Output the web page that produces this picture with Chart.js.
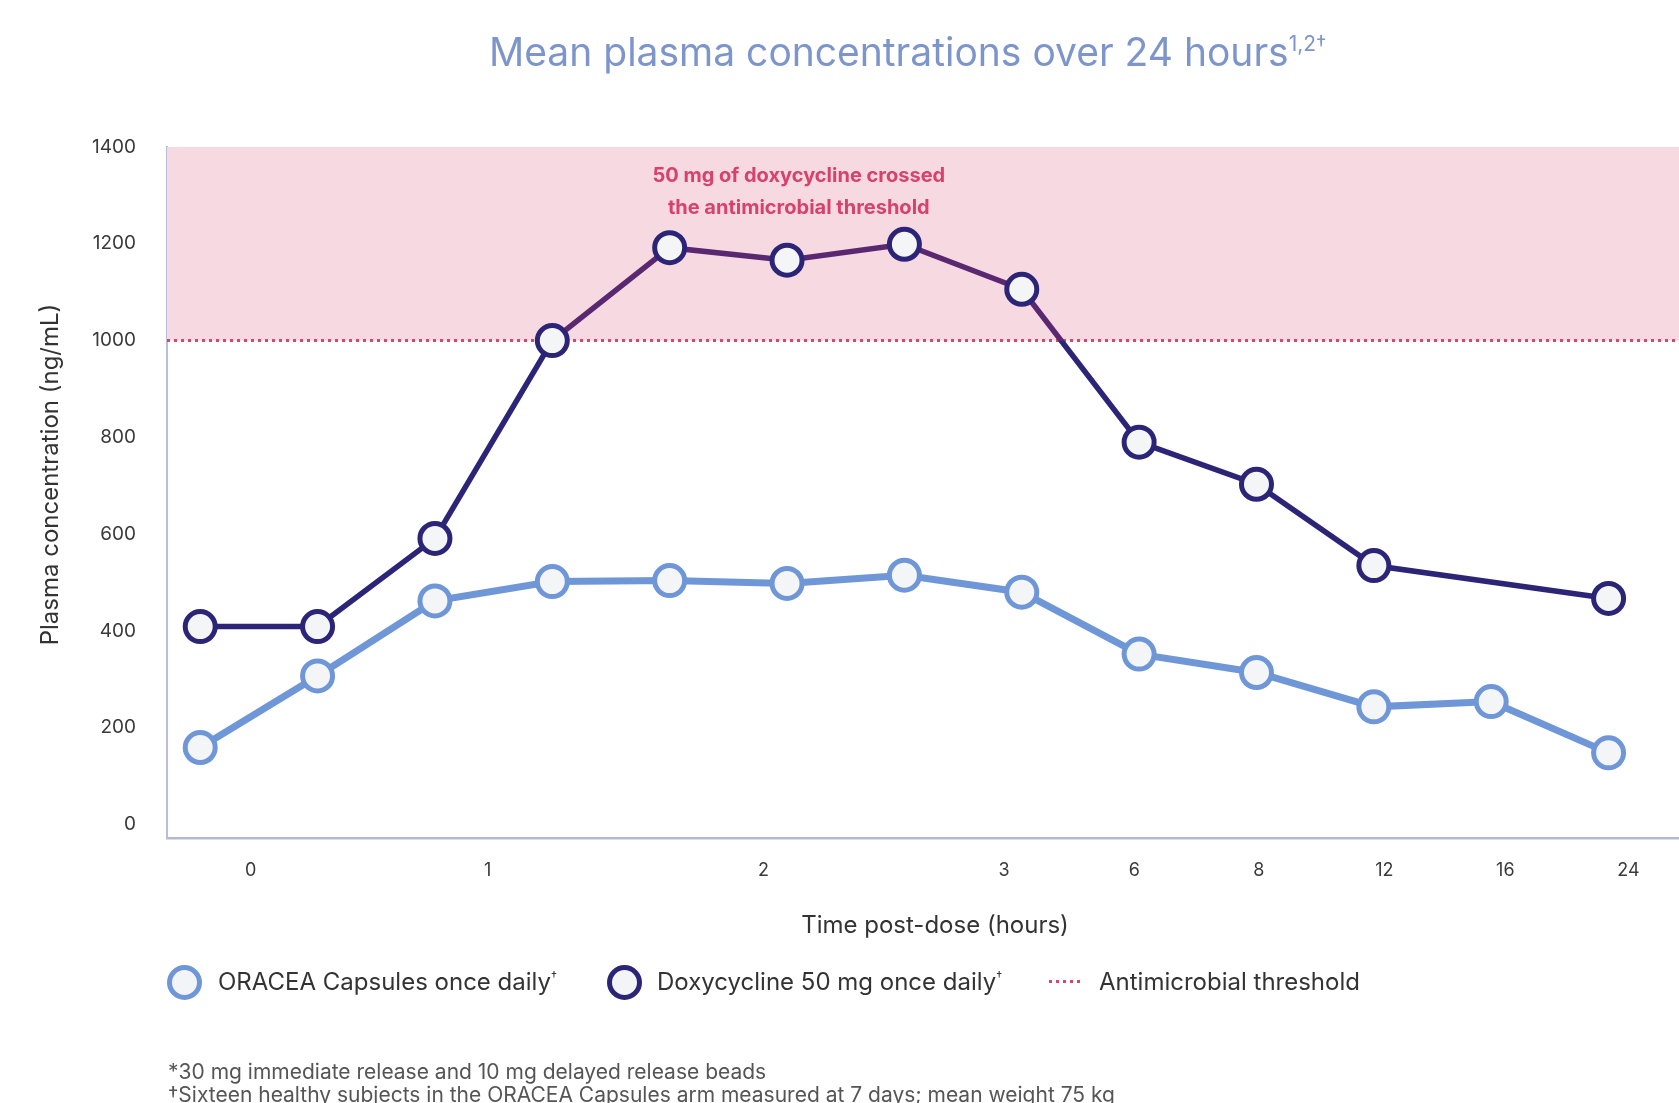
<!DOCTYPE html>
<html>
<head>
<meta charset="utf-8">
<title>Mean plasma concentrations over 24 hours</title>
<script src="https://cdn.jsdelivr.net/npm/chart.js@4.4.1/dist/chart.umd.min.js"></script>
<style>
    body{
        margin: 0;
        width: 1679px;
        height: 1103px;
        overflow: hidden;
        background: #fff;
        font-family: Inter, "Noto Sans", sans-serif;
        position: relative;
    }
    #chartBox{
        position: absolute;
        left: 0;
        top: 0;
        width: 1679px;
        height: 1103px;
    }
    #title{
        position: absolute;
        left: 489px;
        top: 28px;
        font-size: 39px;
        color: #7d95ca;
        white-space: nowrap;
    }
    #title sup{
        font-size: 21px;
        vertical-align: 15px;
        line-height: 0;
    }
    .legendItem{
        position: absolute;
        top: 968px;
        font-size: 24px;
        color: #333;
        white-space: nowrap;
        line-height: 28px;
    }
    .legendItem sup{
        font-size: 12px;
        vertical-align: 10px;
        line-height: 0;
    }
    .marker{
        position: absolute;
        top: 965px;
        width: 25px;
        height: 25px;
        border-radius: 50%;
        background: #f3f4f6;
        border: 5px solid;
    }
    .dots{
        position: absolute;
        top: 980px;
        width: 32px;
        height: 3px;
        background: repeating-linear-gradient(to right, #d8456f 0 3px, transparent 3px 7px);
    }
    .note{
        position: absolute;
        left: 168px;
        font-size: 21px;
        color: #555;
        white-space: nowrap;
    }
</style>
</head>
<body>

<div id="chartBox"><canvas id="plasmaChart"></canvas></div>

<div id="title">Mean plasma concentrations over 24 hours<sup>1,2†</sup></div>

<div class="marker" style="left:167px; border-color:#6f97d8;"></div>
<div class="legendItem" style="left:218px;">ORACEA Capsules once daily<sup>†</sup></div>
<div class="marker" style="left:607px; border-color:#2c2577;"></div>
<div class="legendItem" style="left:657px;">Doxycycline 50 mg once daily<sup>†</sup></div>
<div class="dots" style="left:1049px;"></div>
<div class="legendItem" style="left:1099px;">Antimicrobial threshold</div>

<div class="note" style="top:1059px;">*30 mg immediate release and 10 mg delayed release beads</div>
<div class="note" style="top:1082px;">†Sixteen healthy subjects in the ORACEA Capsules arm measured at 7 days; mean weight 75 kg</div>

<script>
// sample positions along the x axis (one per measurement)
let samples = [0, 1, 2, 3, 4, 5, 6, 7, 8, 9, 10, 11, 12];

let oracea = [159, 307, 462, 502, 504, 498, 515, 480, 352, 314, 243, 254, 148];
let doxy = [409, 409, 591, 1000, 1192, 1166, 1199, 1106, 790, 703, 535, null, 467];

let threshold = 1000;

// x tick labels and where they sit on the sample axis
let tickLabels = ["0", "1", "2", "3", "6", "8", "12", "16", "24"];
let tickPos = [0.43, 2.45, 4.80, 6.85, 7.96, 9.02, 10.09, 11.12, 12.17];

let yTicks = [0, 200, 400, 600, 800, 1000, 1200, 1400];

let noteLines = ["50 mg of doxycycline crossed", "the antimicrobial threshold"];

let xMin = -0.283;
let xMax = 12.6;

const navy = "#2c2577";
const purple = "#5a2870";
const lightBlue = "#6f97d8";
const pointFill = "#f4f5f7";

function toPoints(values){
    return values.map((v, i) => ({ x: samples[i], y: v }));
}

// navy below the threshold, purple-ish inside the pink band
function doxyLineColor(context){
    let chart = context.chart;
    let area = chart.chartArea;
    if(!area){
        return navy;
    }
    let yPix = chart.scales.y.getPixelForValue(threshold);
    let stop = (yPix - area.top) / (area.bottom - area.top);
    stop = Math.min(Math.max(stop, 0), 1);
    let g = chart.ctx.createLinearGradient(0, area.top, 0, area.bottom);
    g.addColorStop(0, purple);
    g.addColorStop(stop, purple);
    g.addColorStop(stop, navy);
    g.addColorStop(1, navy);
    return g;
}

// text inside the band
const notePlugin = {
    id: "notePlugin",
    afterDatasetsDraw(chart){
        let ctx = chart.ctx;
        let x = chart.scales.x.getPixelForValue(5.1);
        ctx.save();
        ctx.font = "bold 20px Inter, 'Noto Sans', sans-serif";
        ctx.fillStyle = "#d8416b";
        ctx.textAlign = "center";
        ctx.textBaseline = "middle";
        ctx.fillText(noteLines[0], x, chart.scales.y.getPixelForValue(1341));
        ctx.fillText(noteLines[1], x, chart.scales.y.getPixelForValue(1275));
        ctx.restore();
    }
};

let ctx = document.getElementById("plasmaChart").getContext("2d");

let chart = new Chart(ctx, {
    type: "line",
    data: {
        datasets: [
            {
                label: "Doxycycline 50 mg once daily",
                data: toPoints(doxy),
                borderColor: doxyLineColor,
                borderWidth: 5.5,
                pointBorderColor: navy,
                pointBackgroundColor: pointFill,
                pointBorderWidth: 5,
                pointRadius: 15,
                spanGaps: true,
                order: 0
            },
            {
                label: "ORACEA Capsules once daily",
                data: toPoints(oracea),
                borderColor: lightBlue,
                borderWidth: 7,
                pointBorderColor: lightBlue,
                pointBackgroundColor: pointFill,
                pointBorderWidth: 5,
                pointRadius: 15,
                order: 1
            },
            {
                label: "Antimicrobial threshold",
                data: [{ x: xMin, y: threshold }, { x: xMax, y: threshold }],
                borderColor: "#d8456f",
                borderWidth: 3,
                borderDash: [3, 4],
                backgroundColor: "#f6d9e1",
                fill: "end",
                pointRadius: 0,
                order: 5
            }
        ]
    },
    options: {
        responsive: true,
        maintainAspectRatio: false,
        animation: false,
        layout: {
            autoPadding: false,
            padding: { top: 147, left: 0, right: 0, bottom: 0 }
        },
        plugins: {
            legend: { display: false },
            tooltip: { enabled: false }
        },
        scales: {
            x: {
                type: "linear",
                min: xMin,
                max: xMax,
                afterBuildTicks: (scale) => {
                    scale.ticks = tickPos.map(v => ({ value: v }));
                },
                afterFit: (scale) => {
                    scale.height = 265;
                    scale.paddingLeft = 0;
                    scale.paddingRight = 0;
                },
                ticks: {
                    callback: (value, index) => tickLabels[index],
                    padding: 22,
                    maxRotation: 0,
                    autoSkip: false,
                    color: "#3a3a3a",
                    font: { family: "Inter", size: 18 }
                },
                grid: { display: false, drawTicks: false, tickLength: 0 },
                border: { display: true, color: "#b3b9d4", width: 2.5 },
                title: {
                    display: true,
                    // leading spaces nudge the title a little to the right
                    text: "\u2002\u2002Time post-dose (hours)",
                    color: "#333",
                    font: { family: "Inter", size: 24 },
                    padding: { top: 0, bottom: 163 }
                }
            },
            y: {
                min: -28,
                max: 1400,
                afterBuildTicks: (scale) => {
                    scale.ticks = yTicks.map(v => ({ value: v }));
                },
                afterFit: (scale) => {
                    scale.width = 167;
                },
                ticks: {
                    callback: (value) => String(value),
                    padding: 31,
                    color: "#3a3a3a",
                    font: { family: "Inter", size: 19 }
                },
                grid: { display: false, drawTicks: false, tickLength: 0 },
                border: { display: true, color: "#b9bdd9", width: 2 },
                title: {
                    display: true,
                    // leading spaces nudge the rotated title up a little
                    text: "\u2002\u2002\u2002Plasma concentration (ng/mL)",
                    color: "#333",
                    font: { family: "Inter", size: 24 },
                    padding: { top: 36, bottom: 0 }
                }
            }
        }
    },
    plugins: [notePlugin]
});
</script>
</body>
</html>
